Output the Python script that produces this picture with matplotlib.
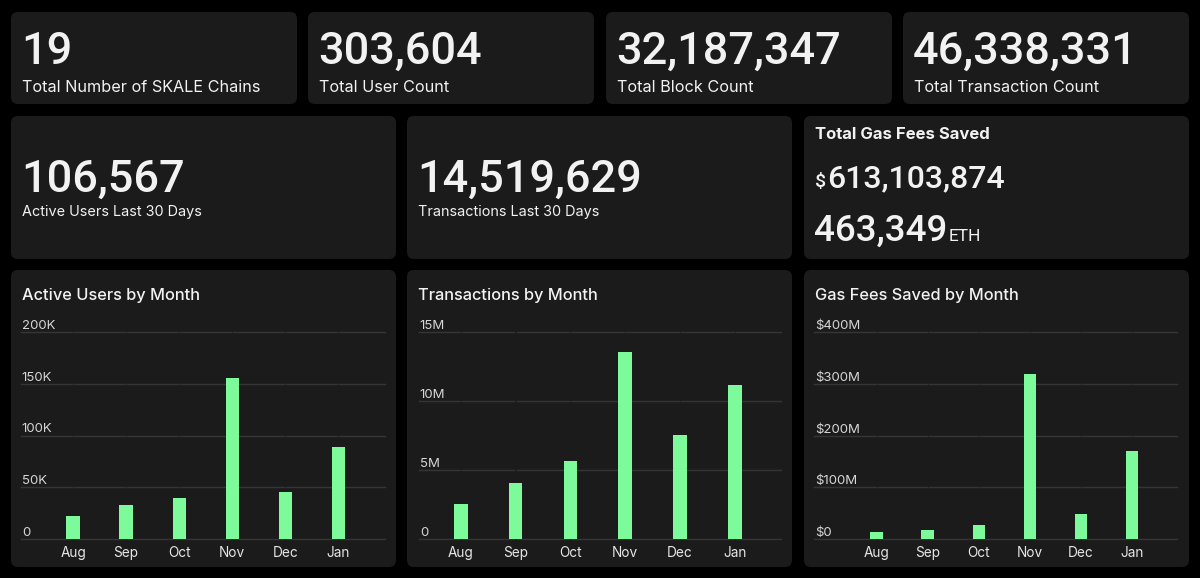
import matplotlib
matplotlib.use('Agg')
from matplotlib import pyplot as plt
from matplotlib.patches import FancyBboxPatch

plt.rcParams['font.family'] = ['Inter', 'DejaVu Sans']
NUMFONT = ['Roboto', 'DejaVu Sans']

months = ['Aug', 'Sep', 'Oct', 'Nov', 'Dec', 'Jan']

active_users = [22000, 33000, 40000, 155500, 45000, 89000]
transactions = [2.54e6, 4.06e6, 5.65e6, 13.55e6, 7.54e6, 11.16e6]
gas_saved = [13.5e6, 17e6, 27e6, 319e6, 48e6, 170e6]

users_ticks = [0, 50000, 100000, 150000, 200000]
users_labels = ['0', '50K', '100K', '150K', '200K']
tx_ticks = [0, 5e6, 10e6, 15e6]
tx_labels = ['0', '5M', '10M', '15M']
gas_ticks = [0, 100e6, 200e6, 300e6, 400e6]
gas_labels = ['$0', '$100M', '$200M', '$300M', '$400M']

top_values = ['19', '303,604', '32,187,347', '46,338,331']
top_names = ['Total Number of SKALE Chains', 'Total User Count', 'Total Block Count', 'Total Transaction Count']
mid_values = ['106,567', '14,519,629']
mid_names = ['Active Users Last 30 Days', 'Transactions Last 30 Days']
gas_usd = '613,103,874'
gas_eth = '463,349'

BG = '#000000'
PANEL = '#1b1b1b'
TXT = '#f2f2f2'
GRID = '#353535'
GREEN = '#7dfb9b'

W, H = 1200, 578
fig = plt.figure(figsize=(W / 100, H / 100), dpi=100, facecolor=BG)
base = fig.add_axes([0, 0, 1, 1])
base.set_xlim(0, W)
base.set_ylim(H, 0)
base.axis('off')
base.set_facecolor(BG)


def panel(x, y, w, h):
    base.add_patch(FancyBboxPatch((x, y), w, h, boxstyle='round,pad=0,rounding_size=7',
                                  facecolor=PANEL, edgecolor='none'))


# row 1
for x, val, name in zip([11, 308, 606, 903], top_values, top_names):
    panel(x, 12, 286, 92)
    base.text(x + 10, 64, val, color=TXT, fontsize=32.5, family=NUMFONT, fontweight='medium', va='baseline')
    base.text(x + 11, 92, name, color=TXT, fontsize=11.7, va='baseline')

# row 2
for x, val, name in zip([11, 407], mid_values, mid_names):
    panel(x, 116, 385, 143)
    base.text(x + 10, 192, val, color=TXT, fontsize=32.5, family=NUMFONT, fontweight='medium', va='baseline')
    base.text(x + 11, 216, name, color=TXT, fontsize=10.4, va='baseline')

panel(804, 116, 385, 143)
base.text(815, 139, 'Total Gas Fees Saved', color=TXT, fontsize=12, fontweight='bold', va='baseline')
base.text(815, 187, '$', color=TXT, fontsize=14, family=NUMFONT, fontweight='medium', va='baseline')
base.text(827, 187, gas_usd, color=TXT, fontsize=23, family=NUMFONT, fontweight='medium', va='baseline')
t = base.text(814, 241, gas_eth, color=TXT, fontsize=26.5, family=NUMFONT, fontweight='medium', va='baseline')
fig.canvas.draw()
x_end = base.transData.inverted().transform(t.get_window_extent().p1)[0]
base.text(x_end + 1, 241, 'ETH', color=TXT, fontsize=12.5, family=NUMFONT, va='baseline')

# row 3 charts
charts = [
    (11, 'Active Users by Month', active_users, users_ticks, users_labels, 20, 386, -1.0, 5.9),
    (407, 'Transactions by Month', transactions, tx_ticks, tx_labels, 418, 782, -0.78, 5.86),
    (804, 'Gas Fees Saved by Month', gas_saved, gas_ticks, gas_labels, 813, 1178, -1.25, 5.9),
]

y_top, y_base = 332, 539
for px, title, values, ticks, labels, gx0, gx1, xl0, xl1 in charts:
    panel(px, 270, 385, 297)
    base.text(px + 11, 300, title, color=TXT, fontsize=11.8, fontweight='medium', va='baseline')

    ax = fig.add_axes([gx0 / W, (H - y_base) / H, (gx1 - gx0) / W, (y_base - y_top) / H])
    ax.set_facecolor('none')
    xs = list(range(len(months)))
    ax.set_xlim(xl0, xl1)
    ax.set_ylim(0, ticks[-1])

    # grid lines with small breaks at each category centre
    stops = [xl0] + xs + [xl1]
    for tv, lab in zip(ticks, labels):
        for a, b in zip(stops[:-1], stops[1:]):
            ax.plot([a + 0.02, b - 0.02], [tv, tv], color=GRID, lw=1, clip_on=False, zorder=1)
        ax.text(0.005, tv, lab, transform=ax.get_yaxis_transform(),
                color='#d6d6d6', fontsize=9.5, va='bottom', ha='left')

    ax.bar(xs, values, width=0.25, color=GREEN, zorder=2)
    ax.set_xticks(xs)
    ax.set_xticklabels(months, color='#e6e6e6', fontsize=9.8)
    ax.tick_params(axis='x', length=0, pad=5)
    ax.set_yticks([])
    for s in ax.spines.values():
        s.set_visible(False)

fig.savefig('out.png', dpi=100, facecolor=BG)
